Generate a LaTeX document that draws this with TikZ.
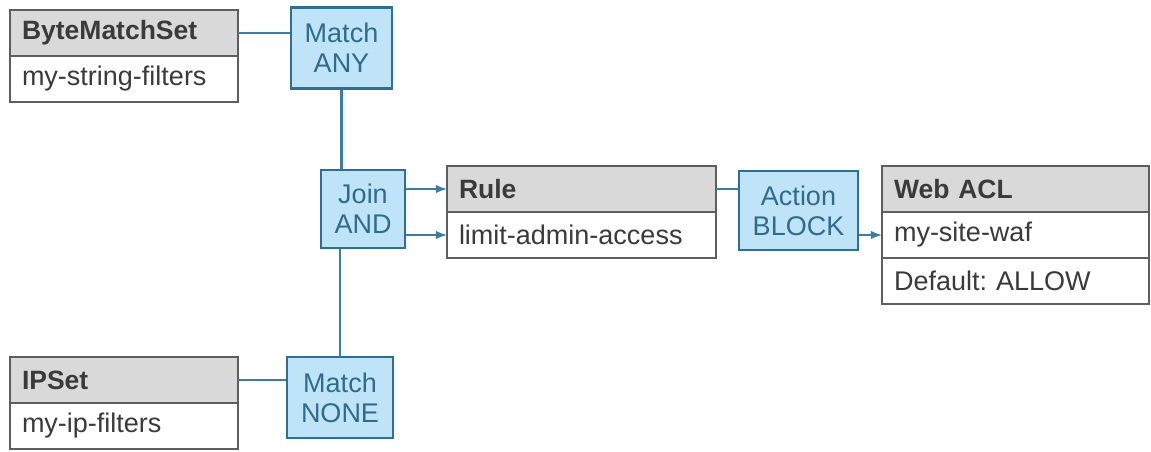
\documentclass[tikz,border=0pt]{standalone}
\usepackage{fontspec}
\setmainfont{Liberation Sans}
\begin{document}
\begin{tikzpicture}[x=1pt,y=-1pt]
	\definecolor{headgray}{HTML}{D9D9D9}
	\definecolor{tabline}{HTML}{5E5E5E}
	\definecolor{tabtext}{HTML}{3A3A3A}
	\definecolor{condfill}{HTML}{BFE4F8}
	\definecolor{condline}{HTML}{2F6F94}
	\definecolor{condtext}{HTML}{2F6B8F}
	\definecolor{linkblue}{HTML}{3A7DA6}
	\tikzstyle{tabhead}=[draw=tabline,fill=headgray,line width=2.8pt,anchor=north west,outer sep=0pt,inner xsep=12pt,inner ysep=0pt,minimum height=46pt,align=left,text=tabtext,font=\fontsize{26.5}{29}\bfseries\selectfont\frenchspacing]
	\tikzstyle{tabrow}=[tabhead,fill=white,font=\fontsize{27}{29}\selectfont\frenchspacing]
	\tikzstyle{cond}=[draw=condline,fill=condfill,line width=2.8pt,inner sep=0pt,align=center,text=condtext,font=\fontsize{27}{30}\selectfont]
	\tikzstyle{link}=[draw=linkblue,line width=2.8pt]
	\tikzstyle{myarrow}=[link,>=latex,->]

	\useasboundingbox (0,0) rectangle (1151,451);

	% tables
	\node[tabhead,text width=204pt] (bms) at (10,10) {ByteMatchSet};
	\node[tabrow,text width=204pt] (bmsrow) at (bms.south west) {my-string-filters};
	\node[tabhead,text width=204pt] (ips) at (10,357) {IPSet};
	\node[tabrow,text width=204pt] (ipsrow) at (ips.south west) {my-ip-filters};
	\node[tabhead,text width=245pt] (rule) at (447,166) {Rule};
	\node[tabrow,text width=245pt] (rulerow) at (rule.south west) {limit-admin-access};
	\node[tabhead,text width=243pt] (acl) at (882,166) {Web ACL};
	\node[tabrow,text width=243pt] (aclrow) at (acl.south west) {my-site-waf};
	\node[tabrow,text width=243pt] (acldef) at (aclrow.south west) {Default: ALLOW};

	% conditions
	\node[cond,minimum width=101pt,minimum height=81pt] (any) at (341.5,48) {Match\\ANY};
	\node[cond,minimum width=106pt,minimum height=81pt] (none) at (340,397.5) {Match\\NONE};
	\node[cond,minimum width=84pt,minimum height=78pt] (join) at (363,209) {Join\\AND};
	\node[cond,minimum width=119pt,minimum height=79pt] (action) at (798.5,210.5) {Action\\BLOCK};

	% connectors
	\draw[link] (bms.east) -- (bms.east -| any.west);
	\draw[link] (ips.east) -- (ips.east -| none.west);
	\draw[link] (any.south) -- (any.south |- join.north);
	\draw[link] (none.north) -- (none.north |- join.south);
	\draw[myarrow] (rule.west -| join.east) -- (rule.west);
	\draw[myarrow] (rulerow.west -| join.east) -- (rulerow.west);
	\draw[link] (rule.east) -- (rule.east -| action.west);
	\draw[myarrow] (aclrow.west -| action.east) -- (aclrow.west);
\end{tikzpicture}
\end{document}
